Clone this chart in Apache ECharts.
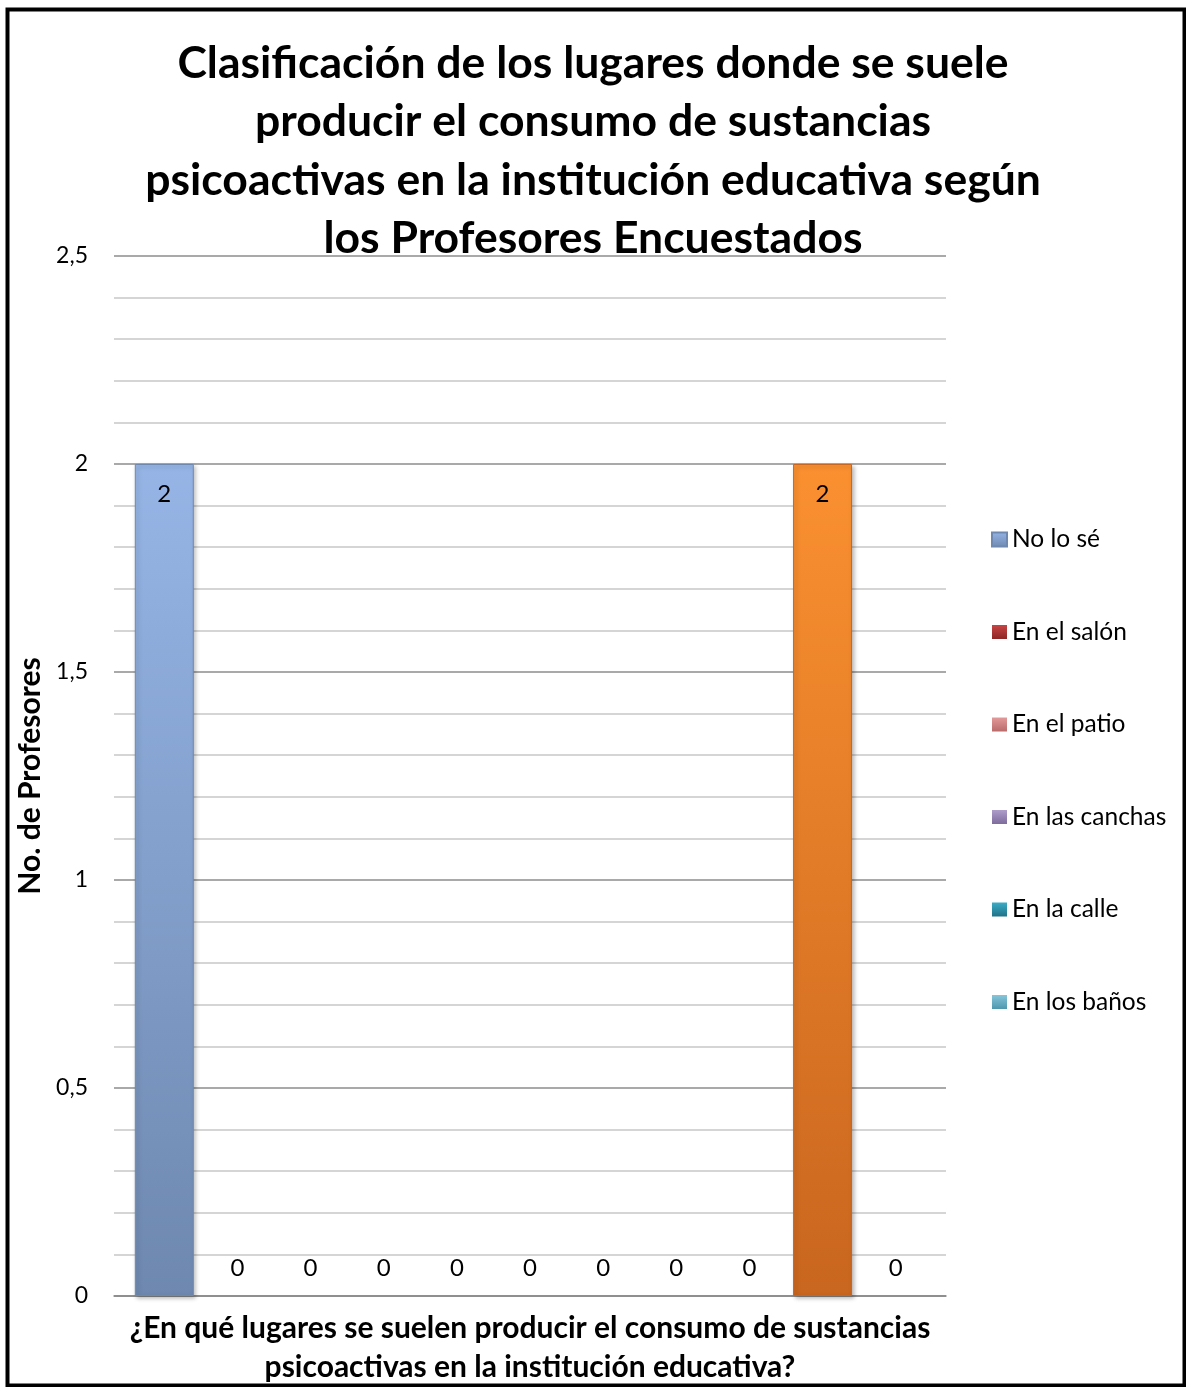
<!DOCTYPE html>
<html>
<head>
<meta charset="utf-8">
<script src="https://cdn.jsdelivr.net/npm/echarts@6/dist/echarts.min.js"></script>
<style>
html,body{margin:0;padding:0;background:#fff;}
#c{width:1186px;height:1387px;}
</style>
</head>
<body>
<div id="c"></div>
<script>
var titleText = 'Clasificación de los lugares donde se suele\nproducir el consumo de sustancias\npsicoactivas en la institución educativa según\nlos Profesores Encuestados';
var yAxisName = 'No. de Profesores';
var xAxisName = '¿En qué lugares se suelen producir el consumo de sustancias\npsicoactivas en la institución educativa?';
var categories = [''];
var seriesNames = ['No lo sé', 'En el salón', 'En el patio', 'En las canchas', 'En la calle', 'En los baños',
  'En los pasillos', 'En la entrada', 'En la cafetería', 'Fuera de la institución', 'Otros'];
var legendNames = ['No lo sé', 'En el salón', 'En el patio', 'En las canchas', 'En la calle', 'En los baños'];
var values = [2, 0, 0, 0, 0, 0, 0, 0, 0, 2, 0];
var yTicks = [0, 0.5, 1, 1.5, 2, 2.5];

var colorStops = [
  ['#96B5E6', '#6E88AF', '#7F9DCB'],
  ['#C84444', '#8E2525', '#B23535'],
  ['#E39A9A', '#B96A6A', '#D58787'],
  ['#AE9CCB', '#7D6C9C', '#9A88B8'],
  ['#3AADC6', '#1E7388', '#2E98B0'],
  ['#86C6DA', '#4F97AE', '#6DB3CA'],
  ['#B5D47A', '#7F9C48', '#9BBB59'],
  ['#FFD766', '#C9A22E', '#E8BD45'],
  ['#8FC7D9', '#5A93A6', '#76AFC2'],
  ['#FA9030', '#C9661F', '#EE7F28'],
  ['#A2B9D9', '#6F86A8', '#8AA2C4']
];

function grad(i) {
  return {
    type: 'linear', x: 0, y: 0, x2: 0, y2: 1,
    colorStops: [{offset: 0, color: colorStops[i][0]}, {offset: 1, color: colorStops[i][1]}]
  };
}

var font = 'Lato, "Open Sans", sans-serif';

var series = seriesNames.map(function (name, i) {
  var nonZero = values[i] > 0;
  return {
    name: name,
    type: 'bar',
    barGap: '24%',
    barCategoryGap: '5%',
    itemStyle: {
      color: grad(i),
      borderColor: colorStops[i][1],
      borderWidth: nonZero ? 1 : 0,
      shadowColor: nonZero ? 'rgba(0,0,0,0.25)' : 'rgba(0,0,0,0)',
      shadowBlur: nonZero ? 4 : 0,
      shadowOffsetX: 2,
      shadowOffsetY: 2
    },
    data: [{
      value: values[i],
      label: nonZero ? {position: 'insideTop', distance: 18} : {position: 'top', distance: 16}
    }],
    label: {
      show: true,
      color: '#000',
      fontSize: 24,
      fontFamily: font
    }
  };
});

var chart = echarts.init(document.getElementById('c'), null, {renderer: 'canvas'});
chart.setOption({
  animation: false,
  backgroundColor: '#fff',
  color: colorStops.map(function (c) { return c[2]; }),
  title: {
    text: titleText,
    left: 'center',
    top: 29,
    textStyle: {
      fontFamily: font,
      fontWeight: 'bold',
      fontSize: 44.5,
      lineHeight: 58.5,
      color: '#000'
    }
  },
  legend: {
    data: legendNames,
    orient: 'vertical',
    left: 986,
    top: 522,
    icon: 'rect',
    itemWidth: 15,
    itemHeight: 14,
    itemGap: 67.5,
    textStyle: {fontFamily: font, fontSize: 24.5, color: '#000'}
  },
  grid: {left: 114, right: 240, top: 256, bottom: 91, containLabel: false, outerBoundsMode: 'none'},
  xAxis: {
    type: 'category',
    data: categories,
    name: xAxisName,
    nameLocation: 'middle',
    nameGap: 13,
    nameTextStyle: {fontFamily: font, fontWeight: 'bold', fontSize: 30, lineHeight: 39, color: '#000', verticalAlign: 'top'},
    axisLine: {show: true, lineStyle: {color: '#868686', width: 1.5}},
    axisTick: {show: false},
    axisLabel: {show: false}
  },
  yAxis: {
    type: 'value',
    min: 0,
    max: 2.5,
    interval: 0.5,
    name: yAxisName,
    nameLocation: 'middle',
    nameGap: 67,
    nameRotate: 90,
    nameTextStyle: {fontFamily: font, fontWeight: 'bold', fontSize: 30, color: '#000'},
    axisLine: {show: false},
    axisTick: {show: false},
    axisLabel: {
      fontFamily: font, fontSize: 23, color: '#000', margin: 26,
      formatter: function (v) { return String(v).replace('.', ','); }
    },
    splitLine: {show: true, lineStyle: {color: '#8C8C8C', width: 1.5}},
    minorTick: {show: false, splitNumber: 5},
    minorSplitLine: {show: true, lineStyle: {color: '#C8C8C8', width: 1.5}}
  },
  graphic: [{
    type: 'rect',
    left: 5, top: 7,
    shape: {x: 0, y: 0, width: 1177, height: 1376},
    style: {fill: 'none', stroke: '#000', lineWidth: 4},
    z: 100
  }],
  series: series
});
</script>
</body>
</html>
